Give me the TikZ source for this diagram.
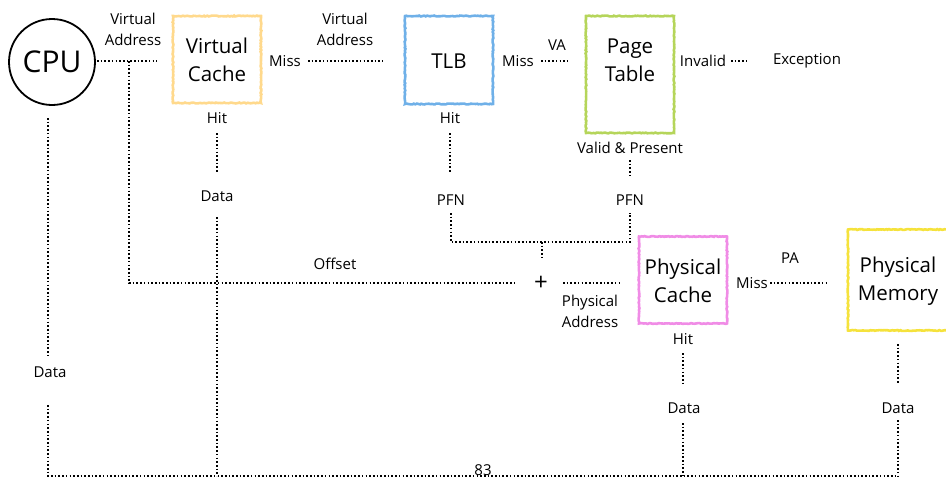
\documentclass[tikz,border=0pt]{standalone}
\usepackage{fontspec}
\setmainfont{Open Sans}
\usetikzlibrary{decorations.pathmorphing}
\definecolor{cvc}{HTML}{FFD98C}
\definecolor{ctlb}{HTML}{6FB0E8}
\definecolor{cpt}{HTML}{B5D55A}
\definecolor{cpc}{HTML}{F08CE6}
\definecolor{cpm}{HTML}{F5E23C}
\begin{document}
\begin{tikzpicture}[x=1pt,y=-1pt,
  lbl/.style={font=\fontsize{15}{21}\selectfont, align=center, inner sep=0pt},
  boxlbl/.style={font=\fontsize{20.5}{28}\selectfont, align=center, inner sep=0pt},
  sbox/.style={draw=#1, line width=2.6pt, decorate,
    decoration={random steps, segment length=1.5pt, amplitude=0.45pt}},
  dl/.style={line width=1.9pt, dash pattern=on 1.6pt off 2.1pt},
]
\useasboundingbox (0,0) rectangle (946,480);
\clip (0,0) rectangle (946,480);

% CPU
\node[draw, circle, line width=1.8pt, minimum size=86pt, inner sep=0pt,
      font=\fontsize{30}{32}\selectfont] (cpu) at (52,62) {CPU};

% boxes
\node[sbox=cvc, minimum width=88pt, minimum height=87pt] (vc) at (217,59.5) {};
\node[boxlbl] (vct) at (217,60) {Virtual\\Cache};
\node[sbox=ctlb, minimum width=88pt, minimum height=88pt] (tlb) at (449,60) {};
\node[boxlbl] (tlbt) at (449,61) {TLB};
\node[sbox=cpt, minimum width=88pt, minimum height=117pt] (pt) at (630,74.5) {};
\node[boxlbl] (ptt) at (630,60) {Page\\Table};
\node[sbox=cpc, minimum width=88pt, minimum height=87pt] (pc) at (683,280) {};
\node[boxlbl] (pct) at (683,281) {Physical\\Cache};
\node[sbox=cpm, minimum width=110pt, minimum height=101pt] (pm) at (903,280) {};
\node[boxlbl] (pmt) at (898,281) {Physical\\Memory};

% labels
\node[lbl] (va1) at (133,29) {Virtual\\Address};
\node[lbl] (miss1) at (285,61) {Miss};
\node[lbl] (va2) at (345,29) {Virtual\\Address};
\node[lbl] (miss2) at (518,61) {Miss};
\node[lbl] (vaa) at (557,45) {VA};
\node[lbl] (inv) at (703,61) {Invalid};
\node[lbl] (exc) at (807,61) {Exception};
\node[lbl] (vp) at (630,148) {Valid \& Present};
\node[lbl] (pfn2) at (630,200) {PFN};
\node[lbl] (pfn1) at (451,200) {PFN};
\node[lbl] (hit2) at (450,118) {Hit};
\node[lbl] (hit1) at (217,118) {Hit};
\node[lbl] (data1) at (217,196) {Data};
\node[lbl] (off) at (335,264) {Offset};
\node[lbl, font=\fontsize{24}{24}\selectfont] (plus) at (541,283) {+};
\node[lbl] (paddr) at (590,311) {Physical\\Address};
\node[lbl] (miss3) at (752,283) {Miss};
\node[lbl] (pa) at (790,258) {PA};
\node[lbl] (hit3) at (683,339) {Hit};
\node[lbl] (data3) at (684,408) {Data};
\node[lbl] (data4) at (898,408) {Data};
\node[lbl] (data0) at (50,372) {Data};
\node[lbl] (n83) at (483,470) {83};

% coordinates
\coordinate (a1) at (97,61);
\coordinate (a2) at (157,61);
\coordinate (j1) at (129,61);
\coordinate (j2) at (129,283);
\coordinate (j3) at (517,283);
\coordinate (b1) at (308,61);
\coordinate (b2) at (383,61);
\coordinate (c1) at (541,61);
\coordinate (c2) at (568,61);
\coordinate (d1) at (731,61);
\coordinate (d2) at (747,61);
\coordinate (e1) at (217,133);
\coordinate (e2) at (217,173);
\coordinate (e3) at (217,217);
\coordinate (f1) at (450,133);
\coordinate (f2) at (450,173);
\coordinate (g1) at (451,213);
\coordinate (g2) at (451,242);
\coordinate (g3) at (630,242);
\coordinate (g4) at (630,213);
\coordinate (h1) at (630,160);
\coordinate (h2) at (630,178);
\coordinate (k1) at (542,242);
\coordinate (k2) at (542,257);
\coordinate (m1) at (563,283);
\coordinate (m2) at (620,283);
\coordinate (p1) at (770,283);
\coordinate (p2) at (826,283);
\coordinate (q1) at (683,353);
\coordinate (q2) at (683,383);
\coordinate (q3) at (683,423);
\coordinate (r1) at (898,344);
\coordinate (r2) at (898,384);
\coordinate (r3) at (898,420);
\coordinate (s1) at (48,118);
\coordinate (s2) at (48,355);
\coordinate (s3) at (48,405);
\coordinate (bl) at (48,476);
\coordinate (bvc) at (217,476);
\coordinate (bpc) at (683,476);
\coordinate (bpm) at (898,476);

% connectors
\draw[dl] (a1) -- (a2);
\draw[dl] (j1) -- (j2) -- (j3);
\draw[dl] (b1) -- (b2);
\draw[dl] (c1) -- (c2);
\draw[dl] (d1) -- (d2);
\draw[dl] (e1) -- (e2);
\draw[dl] (e3) -- (bvc);
\draw[dl] (f1) -- (f2);
\draw[dl] (g1) -- (g2) -- (g3) -- (g4);
\draw[dl] (h1) -- (h2);
\draw[dl] (k1) -- (k2);
\draw[dl] (m1) -- (m2);
\draw[dl] (p1) -- (p2);
\draw[dl] (q1) -- (q2);
\draw[dl] (q3) -- (bpc);
\draw[dl] (r1) -- (r2);
\draw[dl] (r3) -- (bpm);
\draw[dl] (s1) -- (s2);
\draw[dl] (s3) -- (bl) -- (bpm);
\end{tikzpicture}
\end{document}
